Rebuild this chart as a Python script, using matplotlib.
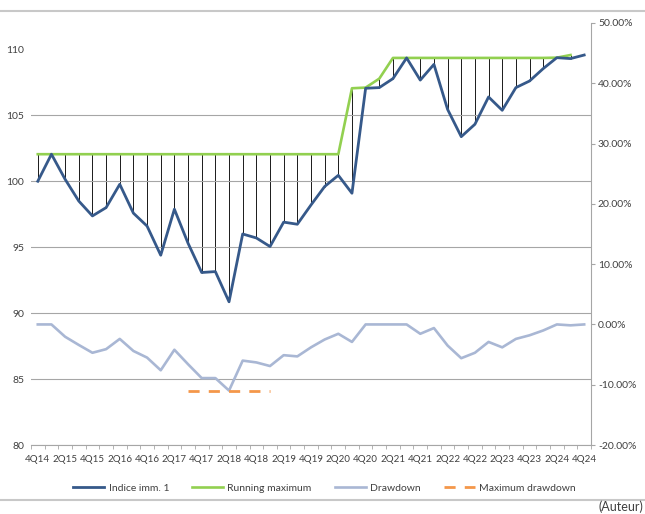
# Indice imm. 1 : running maximum et drawdown

import matplotlib.pyplot as plt
from matplotlib.lines import Line2D
from matplotlib.ticker import FuncFormatter
import numpy as np

quarters = ['4Q14', '1Q15', '2Q15', '3Q15', '4Q15', '1Q16', '2Q16', '3Q16', '4Q16',
            '1Q17', '2Q17', '3Q17', '4Q17', '1Q18', '2Q18', '3Q18', '4Q18',
            '1Q19', '2Q19', '3Q19', '4Q19', '1Q20', '2Q20', '3Q20', '4Q20',
            '1Q21', '2Q21', '3Q21', '4Q21', '1Q22', '2Q22', '3Q22', '4Q22',
            '1Q23', '2Q23', '3Q23', '4Q23', '1Q24', '2Q24', '3Q24', '4Q24']

indice = [100.0, 102.05, 100.15, 98.5, 97.37, 98.0, 99.77, 97.58, 96.6, 94.39,
          97.88, 95.3, 93.08, 93.15, 90.86, 96.0, 95.7, 95.05, 96.9, 96.74,
          98.2, 99.6, 100.45, 99.09, 107.05, 107.1, 107.78, 109.35, 107.67, 108.86,
          105.45, 103.38, 104.32, 106.39, 105.38, 107.1, 107.6, 108.54, 109.37, 109.3,
          109.57]

# la courbe verte s'arrete au 3Q24
running_max = [102.05] * 23 + [107.05, 107.1, 107.78] + [109.35] * 12 + [109.37, 109.57]

drawdown = [0.0, 0.0, -0.0204, -0.034, -0.047, -0.041, -0.024, -0.044, -0.055, -0.076,
            -0.042, -0.066, -0.089, -0.089, -0.1097, -0.060, -0.063, -0.069, -0.051, -0.053,
            -0.038, -0.025, -0.0155, -0.029, 0.0, 0.0, 0.0, 0.0, -0.0155, -0.006,
            -0.035, -0.056, -0.047, -0.029, -0.038, -0.024, -0.018, -0.010, 0.0, -0.0015,
            0.0]

max_drawdown = [np.nan] * 11 + [-0.1097] * 7 + [np.nan] * 23

blue = '#36598A'
green = '#92D050'
light = '#A9B7D4'
orange = '#F4974A'
grey = '#A6A6A6'

plt.rcParams['font.family'] = ['Lato', 'DejaVu Sans']
plt.rcParams['font.size'] = 7.5
plt.rcParams['text.color'] = '#404040'

fig = plt.figure(figsize=(6.45, 5.14), dpi=100)
ax = fig.add_axes([0.048, 0.1342, 0.8683, 0.8211])
x = np.arange(len(quarters))

# traits verticaux entre le maximum et l'indice
ax.vlines(x[:len(running_max)], indice[:len(running_max)], running_max,
          color='#1a1a1a', lw=0.7, zorder=1)
ax.plot(x[:len(running_max)], running_max, color=green, lw=1.9, zorder=2)
ax.plot(x, indice, color=blue, lw=2.0, zorder=3)

ax.set_xlim(-0.5, len(quarters) - 0.5)
ax.set_ylim(80, 112)
ax.set_yticks(range(80, 111, 5))
ax.grid(axis='y', color=grey, lw=0.8, zorder=0)
ax.yaxis.get_gridlines()[-1].set_visible(False)
ax.tick_params(axis='y', length=0, pad=5, labelcolor='#404040')

ax.set_xticks(x[::2])
ax.set_xticklabels(quarters[::2], fontsize=7.0)
ax.set_xticks(np.arange(-0.5, len(quarters), 1), minor=True)
ax.tick_params(axis='x', which='major', length=0, pad=7, labelcolor='#404040')
ax.tick_params(axis='x', which='minor', length=3, color=grey)

for s in ['left', 'top', 'right']:
    ax.spines[s].set_visible(False)
ax.spines['bottom'].set_color(grey)

# axe de droite : drawdown
ax2 = ax.twinx()
ax2.plot(x, drawdown, color=light, lw=1.9)
ax2.plot(x, max_drawdown, color=orange, lw=2.0, dashes=(4, 3.3))
ax2.set_ylim(-0.2, 0.5)
ax2.set_yticks(np.arange(-0.2, 0.51, 0.1))
ax2.yaxis.set_major_formatter(FuncFormatter(lambda v, p: '{:.2f}%'.format(v * 100 + 0.0)))
ax2.tick_params(axis='y', length=3, color=grey, pad=2, labelcolor='#404040')
for s in ['left', 'top', 'bottom']:
    ax2.spines[s].set_visible(False)
ax2.spines['right'].set_color(grey)

handles = [Line2D([], [], color=blue, lw=2.0),
           Line2D([], [], color=green, lw=1.9),
           Line2D([], [], color=light, lw=1.9),
           Line2D([], [], color=orange, lw=2.0, dashes=(4, 3.3))]
labels = ['Indice imm. 1', 'Running maximum', 'Drawdown', 'Maximum drawdown']
fig.legend(handles, labels, loc='center', bbox_to_anchor=(0.503, 0.0506), ncol=4,
           frameon=False, handlelength=3.0, handletextpad=0.4, columnspacing=2.2)

# filets haut et bas
fig.add_artist(Line2D([0, 1], [1 - 11 / 514, 1 - 11 / 514], transform=fig.transFigure,
                      color='#C8C8C8', lw=1.5))
fig.add_artist(Line2D([0, 1], [14 / 514, 14 / 514], transform=fig.transFigure,
                      color='#C8C8C8', lw=1.5))
fig.text(0.997, 1 / 514, '(Auteur)', ha='right', va='bottom', fontsize=9, color='#404040')

fig.savefig('out.png', dpi=100)
